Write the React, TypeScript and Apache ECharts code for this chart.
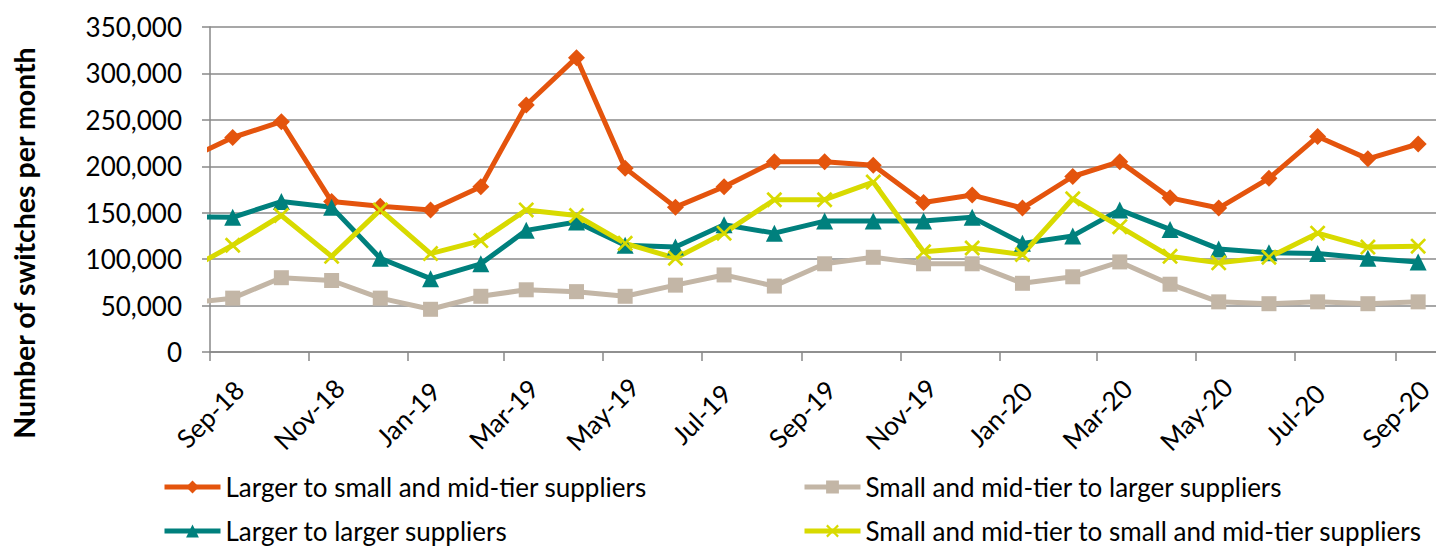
import React, { useEffect, useRef } from "react";
import * as echarts from "echarts";

// Monthly data points (plotted mid-month); the first one lies left of the axis start and is clipped
const months = [
  "2018-08", "2018-09", "2018-10", "2018-11", "2018-12",
  "2019-01", "2019-02", "2019-03", "2019-04", "2019-05", "2019-06",
  "2019-07", "2019-08", "2019-09", "2019-10", "2019-11", "2019-12",
  "2020-01", "2020-02", "2020-03", "2020-04", "2020-05", "2020-06",
  "2020-07", "2020-08", "2020-09",
];

const largerToSmall = [
  205000, 231000, 248000, 162000, 157000, 153000, 178000, 266000, 317000, 198000, 156000,
  178000, 205000, 205000, 201000, 161000, 169000, 155000, 189000, 205000, 166000, 155000,
  187000, 232000, 208000, 224000,
];
const smallToLarger = [
  52000, 58000, 80000, 77000, 58000, 46000, 60000, 67000, 65000, 60000, 72000,
  83000, 71000, 95000, 102000, 95000, 95000, 74000, 81000, 97000, 73000, 54000,
  52000, 54000, 52000, 54000,
];
const largerToLarger = [
  146000, 145000, 162000, 156000, 101000, 79000, 95000, 131000, 140000, 115000, 113000,
  137000, 128000, 141000, 141000, 141000, 145000, 117000, 125000, 153000, 132000, 111000,
  107000, 106000, 101000, 97000,
];
const smallToSmall = [
  85000, 115000, 147000, 103000, 153000, 106000, 120000, 153000, 147000, 117000, 101000,
  128000, 164000, 164000, 183000, 108000, 112000, 105000, 165000, 135000, 103000, 96000,
  102000, 128000, 113000, 114000,
];

const tickMonths = [
  "2018-09", "2018-11", "2019-01", "2019-03", "2019-05", "2019-07", "2019-09",
  "2019-11", "2020-01", "2020-03", "2020-05", "2020-07", "2020-09",
];

const seriesNames = [
  "Larger to small and mid-tier suppliers",
  "Small and mid-tier to larger suppliers",
  "Larger to larger suppliers",
  "Small and mid-tier to small and mid-tier suppliers",
];

const monthAbbr = ["Jan", "Feb", "Mar", "Apr", "May", "Jun", "Jul", "Aug", "Sep", "Oct", "Nov", "Dec"];

function ym(s: string, day: number) {
  const [y, m] = s.split("-").map(Number);
  return new Date(y, m - 1, day).getTime();
}

const FONT = "Lato, 'Noto Sans', sans-serif";
const X_MARK = "path://M0,1.2L1.2,0L5,3.8L8.8,0L10,1.2L6.2,5L10,8.8L8.8,10L5,6.2L1.2,10L0,8.8L3.8,5Z";

export default function App() {
  const ref = useRef<HTMLDivElement>(null);
  useEffect(() => {
    if (!ref.current) return;
    const chart = echarts.init(ref.current, undefined, { renderer: "svg" });
    const mk = (vals: number[]) => months.map((m, i) => [ym(m, 15), vals[i]]);
    const ticks = tickMonths.map((m) => ym(m, 1));
    const legendBase = {
      itemWidth: 56,
      itemHeight: 16,
      padding: 0,
      lineStyle: { width: 5 },
      textStyle: { fontFamily: FONT, fontSize: 26, color: "#000" },
    };
    chart.setOption({
      animation: false,
      grid: { left: 210, top: 27, right: 0, bottom: 195, containLabel: false },
      xAxis: {
        type: "value",
        min: ym("2018-09", 1),
        max: ym("2020-09", 26),
        scale: true,
        axisLine: { show: true, lineStyle: { color: "#888", width: 1.5 } },
        axisTick: { show: true, length: 9, lineStyle: { color: "#888", width: 1.5 }, customValues: ticks },
        splitLine: { show: false },
        axisLabel: {
          customValues: ticks,
          rotate: 45,
          align: "center",
          verticalAlign: "middle",
          margin: 62,
          fontFamily: FONT,
          fontSize: 26,
          color: "#000",
          formatter: (v: number) => {
            const d = new Date(v);
            return monthAbbr[d.getMonth()] + "-" + String(d.getFullYear()).slice(2);
          },
        },
      },
      yAxis: {
        type: "value",
        min: 0,
        max: 350000,
        interval: 50000,
        axisLine: { show: true, lineStyle: { color: "#888", width: 1.5 } },
        axisTick: { show: true, length: 8, lineStyle: { color: "#888", width: 1.5 } },
        splitLine: { show: true, lineStyle: { color: "#8a8a8a", width: 1.5 } },
        axisLabel: {
          margin: 28,
          fontFamily: FONT,
          fontSize: 26,
          color: "#000",
          formatter: (v: number) => v.toLocaleString("en-US"),
        },
      },
      legend: [
        { ...legendBase, data: [seriesNames[0]], left: 162, top: 474 },
        { ...legendBase, data: [seriesNames[1]], left: 802, top: 474 },
        { ...legendBase, data: [seriesNames[2]], left: 162, top: 518 },
        { ...legendBase, data: [seriesNames[3]], left: 802, top: 518 },
      ],
      graphic: [
        {
          type: "text",
          x: 24,
          y: 243,
          rotation: Math.PI / 2,
          style: {
            text: "Number of switches per month",
            font: `bold 28.5px ${FONT}`,
            fill: "#000",
            align: "center",
            verticalAlign: "middle",
          },
        },
      ],
      series: [
        {
          name: seriesNames[0],
          type: "line",
          data: mk(largerToSmall),
          symbol: "diamond",
          symbolSize: 17,
          showAllSymbol: true,
          color: "#E4540D",
          lineStyle: { width: 5, color: "#E4540D" },
          itemStyle: { color: "#E4540D" },
        },
        {
          name: seriesNames[1],
          type: "line",
          data: mk(smallToLarger),
          symbol: "rect",
          symbolSize: 15,
          showAllSymbol: true,
          color: "#C3B6A6",
          lineStyle: { width: 5, color: "#C3B6A6" },
          itemStyle: { color: "#C3B6A6" },
        },
        {
          name: seriesNames[2],
          type: "line",
          data: mk(largerToLarger),
          symbol: "triangle",
          symbolSize: 17,
          showAllSymbol: true,
          color: "#00807D",
          lineStyle: { width: 5, color: "#00807D" },
          itemStyle: { color: "#00807D" },
        },
        {
          name: seriesNames[3],
          type: "line",
          data: mk(smallToSmall),
          symbol: X_MARK,
          symbolSize: 16,
          showAllSymbol: true,
          color: "#D8DA00",
          lineStyle: { width: 5, color: "#D8DA00" },
          itemStyle: { color: "#D8DA00" },
        },
      ],
    });
    return () => chart.dispose();
  }, []);
  return (
    <div
      ref={ref}
      style={{ position: "fixed", left: 0, top: 0, width: 1436, height: 547, background: "#fff" }}
    />
  );
}
